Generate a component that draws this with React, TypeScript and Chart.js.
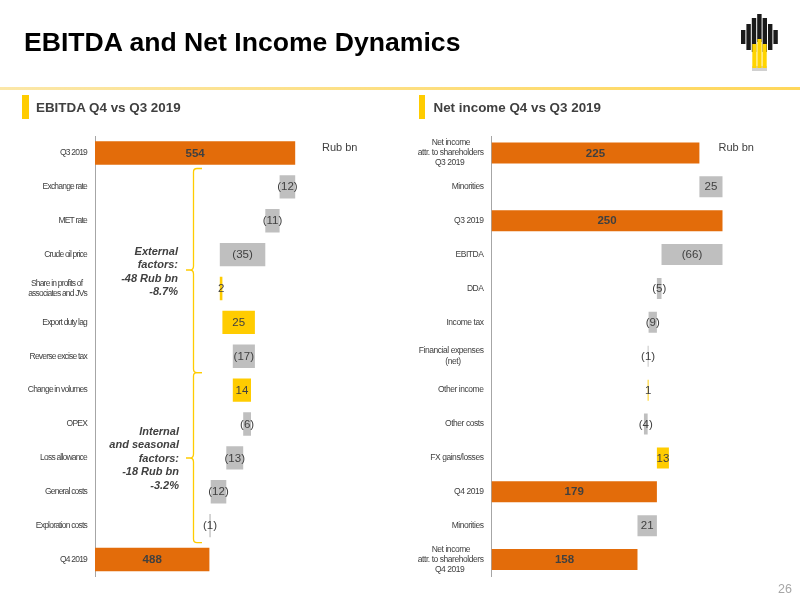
import React, { useEffect, useRef } from "react";
import { Chart, registerables } from "chart.js";

Chart.register(...registerables);

const SANS = "'Liberation Sans', Arial, sans-serif";
const ORANGE = "#E36C0A";
const GRAY = "#BFBFBF";
const YELLOW = "#FFCC00";
const TEXT = "#404040";

// EBITDA waterfall, Rub bn
const ebitdaCategories = [
  "Q3 2019",
  "Exchange rate",
  "MET rate",
  "Crude oil price",
  ["Share in profits of   ", "associates and JVs"],
  "Export duty lag",
  "Reverse excise tax",
  "Change in volumes",
  "OPEX",
  "Loss allowance",
  "General costs",
  "Exploration costs",
  "Q4 2019",
];
const ebitdaFrom = [400, 542, 531, 496, 496, 498, 506, 506, 514, 501, 489, 488, 400];
const ebitdaTo = [554, 554, 542, 531, 498, 523, 523, 520, 520, 514, 501, 489, 488];
const ebitdaLabels = ["554", "(12)", "(11)", "(35)", "2", "25", "(17)", "14", "(6)", "(13)", "(12)", "(1)", "488"];
const ebitdaKinds = ["t", "d", "d", "d", "u", "u", "d", "u", "d", "d", "d", "d", "t"];

// Net income waterfall, Rub bn
const incomeCategories = [
  ["Net income       ", "attr. to shareholders", "Q3 2019          "],
  "Minorities",
  "Q3 2019",
  "EBITDA",
  "DDA",
  "Income tax",
  ["Financial expenses", "(net)            "],
  "Other income",
  "Other costs",
  "FX gains/losses",
  "Q4 2019",
  "Minorities",
  ["Net income       ", "attr. to shareholders", "Q4 2019          "],
];
const incomeFrom = [0, 225, 0, 184, 179, 170, 169, 169, 165, 179, 0, 158, 0];
const incomeTo = [225, 250, 250, 250, 184, 179, 170, 170, 169, 192, 179, 179, 158];
const incomeLabels = ["225", "25", "250", "(66)", "(5)", "(9)", "(1)", "1", "(4)", "13", "179", "21", "158"];
const incomeKinds = ["t", "d", "t", "d", "d", "d", "d", "u", "d", "u", "t", "d", "t"];

const kindColor: Record<string, string> = { t: ORANGE, d: GRAY, u: YELLOW };

// writes the value in the middle of each bar
const barLabels = {
  id: "barLabels",
  afterDatasetsDraw(chart: any) {
    const { ctx } = chart;
    const ds = chart.data.datasets[0];
    chart.getDatasetMeta(0).data.forEach((bar: any, i: number) => {
      ctx.save();
      ctx.letterSpacing = "0px";
      ctx.font = `${ds.kinds[i] === "t" ? "bold " : ""}11.5px ${SANS}`;
      ctx.fillStyle = TEXT;
      ctx.textAlign = "center";
      ctx.textBaseline = "middle";
      ctx.fillText(ds.valueLabels[i], (bar.x + bar.base) / 2, bar.y + 0.5);
      ctx.restore();
    });
  },
};

type PanelProps = {
  categories: any[];
  from: number[];
  to: number[];
  labels: string[];
  kinds: string[];
  min: number;
  max: number;
  left: number;
  axisX: number;
  rightPad: number;
  thickness: number;
  tickSpacing: string;
};

const Panel = ({ categories, from, to, labels, kinds, min, max, left, axisX, rightPad, thickness, tickSpacing }: PanelProps) => {
  const ref = useRef<HTMLCanvasElement | null>(null);

  useEffect(() => {
    if (!ref.current) return;
    // no narrow font installed, so the tick labels get squeezed instead
    const squeeze = {
      id: "squeeze",
      beforeDraw(c: any) {
        c.ctx.letterSpacing = tickSpacing;
      },
    };
    const chart = new Chart(ref.current, {
      type: "bar",
      data: {
        labels: categories,
        datasets: [
          {
            data: from.map((v, i) => [v, to[i]]),
            backgroundColor: kinds.map((k) => kindColor[k]),
            categoryPercentage: 1,
            barPercentage: thickness,
            valueLabels: labels,
            kinds,
          } as any,
        ],
      },
      options: {
        indexAxis: "y",
        responsive: false,
        animation: false,
        layout: { padding: { top: 136, bottom: 23.5, left: 0, right: rightPad } },
        plugins: { legend: { display: false }, tooltip: { enabled: false } },
        scales: {
          x: { display: false, min, max },
          y: {
            afterFit: (scale: any) => {
              scale.width = axisX;
            },
            grid: { display: false, drawTicks: false },
            border: { display: true, color: "#A6A6A6", width: 1 },
            ticks: {
              autoSkip: false,
              padding: 8,
              color: TEXT,
              font: { family: SANS, size: 8.5, lineHeight: 1.2 },
            },
          },
        },
      },
      plugins: [squeeze, barLabels],
    });
    return () => chart.destroy();
  }, []);

  return <canvas ref={ref} width={400} height={600} style={{ position: "absolute", left, top: 0 }} />;
};

const abs = (left: number, top: number, style: React.CSSProperties = {}): React.CSSProperties => ({
  position: "absolute",
  left,
  top,
  whiteSpace: "nowrap",
  fontFamily: SANS,
  ...style,
});

const factorStyle = (right: number, top: number): React.CSSProperties => ({
  position: "absolute",
  left: right - 160,
  width: 160,
  top,
  textAlign: "right",
  fontFamily: SANS,
  fontStyle: "italic",
  fontWeight: "bold",
  fontSize: 11,
  lineHeight: "13.4px",
  color: TEXT,
});

const App = () => {
  return (
    <div style={{ position: "absolute", left: 0, top: 0, width: 800, height: 600, background: "#fff", overflow: "hidden" }}>
      <Panel
        categories={ebitdaCategories}
        from={ebitdaFrom}
        to={ebitdaTo}
        labels={ebitdaLabels}
        kinds={ebitdaKinds}
        min={400}
        max={600}
        left={0}
        axisX={95}
        rightPad={45}
        thickness={0.69}
        tickSpacing="-0.8px"
      />
      <Panel
        categories={incomeCategories}
        from={incomeFrom}
        to={incomeTo}
        labels={incomeLabels}
        kinds={incomeKinds}
        min={0}
        max={300}
        left={400}
        axisX={91.5}
        rightPad={31.3}
        thickness={0.62}
        tickSpacing="-0.45px"
      />

      <div style={abs(24, 27, { fontSize: 26.6, fontWeight: "bold", color: "#000" })}>EBITDA and Net Income Dynamics</div>

      <div style={{ position: "absolute", left: 0, top: 87, width: 800, height: 3, background: "linear-gradient(90deg, #FBE7A8, #FFD75A)" }} />
      <div style={{ position: "absolute", left: 22, top: 95, width: 6.5, height: 24, background: YELLOW }} />
      <div style={{ position: "absolute", left: 418.5, top: 95, width: 6.5, height: 24, background: YELLOW }} />
      <div style={abs(36, 100, { fontSize: 13.4, fontWeight: "bold", color: TEXT })}>EBITDA Q4 vs Q3 2019</div>
      <div style={abs(433.5, 100, { fontSize: 13.4, fontWeight: "bold", color: TEXT })}>Net income Q4 vs Q3 2019</div>

      <div style={abs(322, 141, { fontSize: 11, color: TEXT })}>Rub bn</div>
      <div style={abs(718.5, 141, { fontSize: 11, color: TEXT })}>Rub bn</div>

      <div style={factorStyle(178, 245)}>
        External
        <br />
        factors:
        <br />
        -48 Rub bn
        <br />
        -8.7%
      </div>
      <div style={factorStyle(179, 425)}>
        Internal
        <br />
        and seasonal
        <br />
        factors:
        <br />
        -18 Rub bn
        <br />
        -3.2%
      </div>

      {/* braces and logo */}
      <svg width={800} height={600} style={{ position: "absolute", left: 0, top: 0 }}>
        <g fill="none" stroke={YELLOW} strokeWidth={1.3}>
          <path d="M202 168.5 H197 Q193.5 168.5 193.5 172 V266 Q193.5 270 190 270 H186 M190 270 Q193.5 270 193.5 274 V369 Q193.5 372.7 197 372.7 H202" />
          <path d="M202 372.7 H197 Q193.5 372.7 193.5 376 V454 Q193.5 458 190 458 H186 M190 458 Q193.5 458 193.5 462 V539 Q193.5 542.7 197 542.7 H202" />
        </g>
        <rect x={752} y={66} width={15} height={5} fill="#D0D0D0" />
        <g fill="#1A1A1A">
          <rect x={741} y={30} width={4.4} height={14} />
          <rect x={746.4} y={24} width={4.4} height={26} />
          <rect x={751.8} y={18} width={4.4} height={34} />
          <rect x={757.2} y={14} width={4.4} height={28} />
          <rect x={762.6} y={18} width={4.4} height={34} />
          <rect x={768} y={24} width={4.4} height={26} />
          <rect x={773.4} y={30} width={4.4} height={14} />
        </g>
        <g fill="#FFD400">
          <rect x={752.3} y={44} width={4.2} height={24} />
          <rect x={757.4} y={39} width={4.2} height={29} />
          <rect x={762.5} y={44} width={4.2} height={24} />
        </g>
      </svg>

      <div style={abs(778, 582, { fontSize: 12.5, color: "#A6A6A6" })}>26</div>
    </div>
  );
};

export default App;
